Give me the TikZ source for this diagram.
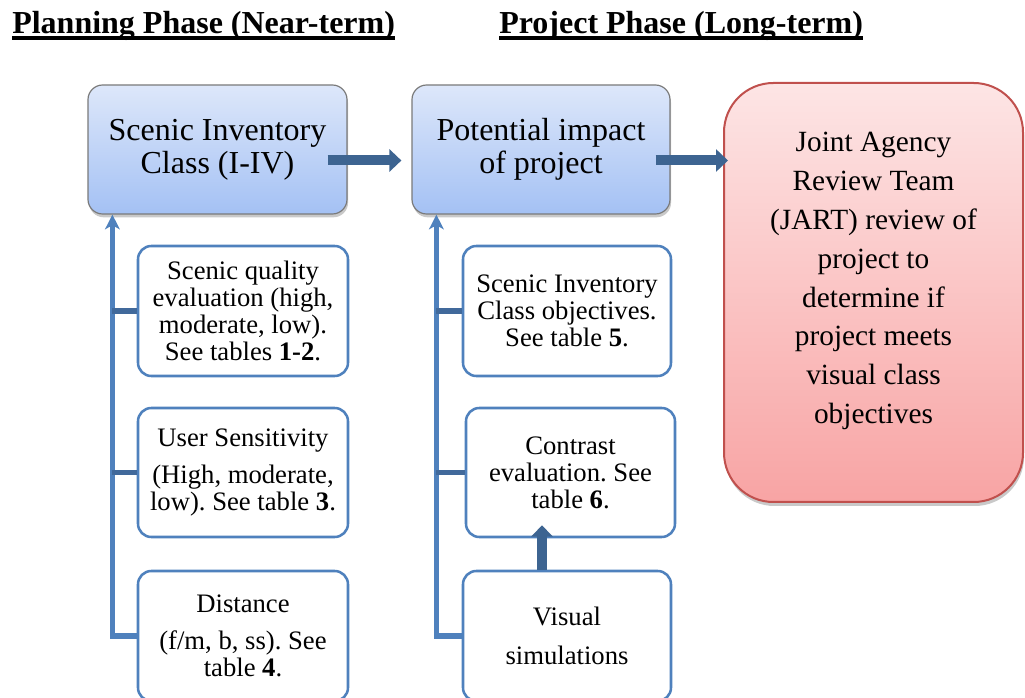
\documentclass[tikz,border=0pt]{standalone}
\usepackage{fontspec}
\setmainfont{Liberation Serif}
\usetikzlibrary{arrows.meta,shadows}
\frenchspacing

\definecolor{boxtop}{HTML}{DDE7FA}
\definecolor{boxbot}{HTML}{A4C1F4}
\definecolor{boxedge}{HTML}{7A7A7A}
\definecolor{linkblue}{HTML}{4F81BD}
\definecolor{stubblue}{HTML}{41699B}
\definecolor{flowblue}{HTML}{3D6491}
\definecolor{jarttop}{HTML}{FDE5E5}
\definecolor{jartbot}{HTML}{F8A4A4}
\definecolor{jartedge}{HTML}{C0504D}

\newcommand\fbig{\fontsize{24}{24.75}\selectfont}
\newcommand\fsmall{\fontsize{20}{20.25}\selectfont}
\newcommand\fjart{\fontsize{22}{29.1}\selectfont}
\newcommand\ftitle{\fontsize{24}{24}\selectfont\bfseries}

\begin{document}
\begin{tikzpicture}[x=0.75pt,y=-0.75pt,
  stage/.style={rounded corners=11pt, draw=boxedge, line width=0.9pt,
    top color=boxtop, bottom color=boxbot, align=center, font=\fbig,
    minimum width=259*0.75pt, minimum height=129*0.75pt,
    drop shadow={shadow xshift=0.8pt, shadow yshift=-2.5pt, opacity=0.3, fill=black!70}},
  factor/.style={rounded corners=10pt, draw=linkblue, line width=1.9pt,
    fill=white, align=center, font=\fsmall, inner sep=0pt,
    minimum width=209*0.75pt, minimum height=129*0.75pt},
  review/.style={rounded corners=37pt, draw=jartedge, line width=1.5pt,
    top color=jarttop, bottom color=jartbot,
    minimum width=299*0.75pt, minimum height=419*0.75pt,
    drop shadow={shadow xshift=0.8pt, shadow yshift=-3pt, opacity=0.3, fill=black!70}},
  reviewtext/.style={align=center, font=\fjart, inner sep=0pt},
  heading/.style={font=\ftitle, inner sep=0pt, anchor=base west},
  spine/.style={draw=linkblue, line width=3.9pt,
    -{Stealth[length=11pt,width=11pt,inset=3pt]}},
  stub/.style={draw=stubblue, line width=3.9pt},
  flow/.style={draw=flowblue, line width=7.5pt,
    -{Triangle[length=9pt,width=16.5pt]}},
]
\useasboundingbox (0,0) rectangle (1025,698);

% headings
\node[heading] (t1) at (12,34) {Planning Phase (Near-term)};
\node[heading] (t2) at (499,34) {Project Phase (Long-term)};
\draw[line width=2.4pt] ([yshift=-3pt]t1.base west) -- ([yshift=-3pt]t1.base east);
\draw[line width=2.4pt] ([yshift=-3pt]t2.base west) -- ([yshift=-3pt]t2.base east);

% main stages
\node[stage] (b1) at (217.5,149.5) {Scenic Inventory\\Class (I-IV)};
\node[stage, minimum width=258*0.75pt] (b2) at (541,149.5) {Potential impact\\of project};
\node[review] (jart) at (873.5,292.5) {};
\node[reviewtext] (jt) at ([yshift=8.5pt]jart.center)
  {Joint Agency\\Review Team\\(JART) review of\\project to\\determine if\\project meets\\visual class\\objectives};

% planning inputs
\node[factor, minimum width=210*0.75pt, minimum height=130*0.75pt] (qa) at (243,311)
  {Scenic quality\\evaluation (high,\\moderate, low).\\See tables \textbf{1-2}.};
\node[factor, minimum width=210*0.75pt] (us) at (243,472.5)
  {User Sensitivity\\[8pt](High, moderate,\\low). See table \textbf{3}.};
\node[factor, minimum width=210*0.75pt, minimum height=130*0.75pt] (di) at (243,636)
  {Distance\\[8pt](f/m, b, ss). See\\table \textbf{4}.};

% project inputs
\node[factor, minimum width=208*0.75pt, minimum height=130*0.75pt] (ob) at (567,311)
  {Scenic Inventory\\Class objectives.\\See table \textbf{5}.};
\node[factor] (ce) at (570.5,472.5)
  {Contrast\\evaluation. See\\table \textbf{6}.};
\node[factor, minimum width=208*0.75pt, minimum height=130*0.75pt] (vs) at (567,636)
  {Visual\\[9pt]simulations};

% left spine with branches
\coordinate (ls) at ([xshift=18.75pt]b1.south west);
\draw[spine] (di.west) -| (ls);
\draw[stub] (qa.west) -- (qa.west -| ls);
\draw[stub] (us.west) -- (us.west -| ls);

% right spine with branches
\coordinate (rs) at ([xshift=18.75pt]b2.south west);
\draw[spine] (vs.west) -| (rs);
\draw[stub] (ob.west) -- (ob.west -| rs);
\draw[stub] (ce.west) -- (ce.west -| rs);

% flow arrows
\coordinate (a1) at ([xshift=-15pt,yshift=-8.25pt]b1.east);
\draw[flow, shorten >=7.5pt] (a1) -- (a1 -| b2.west);
\coordinate (a2) at ([xshift=-11.25pt,yshift=-8.25pt]b2.east);
\draw[flow, shorten >=-3.75pt] (a2) -- (a2 -| jart.west);
\coordinate (a3) at ([xshift=-18.75pt]vs.north);
\draw[flow, -{Triangle[length=8.5pt,width=15.75pt]}, shorten >=-9.75pt]
  (a3) -- (a3 |- ce.south);
\end{tikzpicture}
\end{document}
